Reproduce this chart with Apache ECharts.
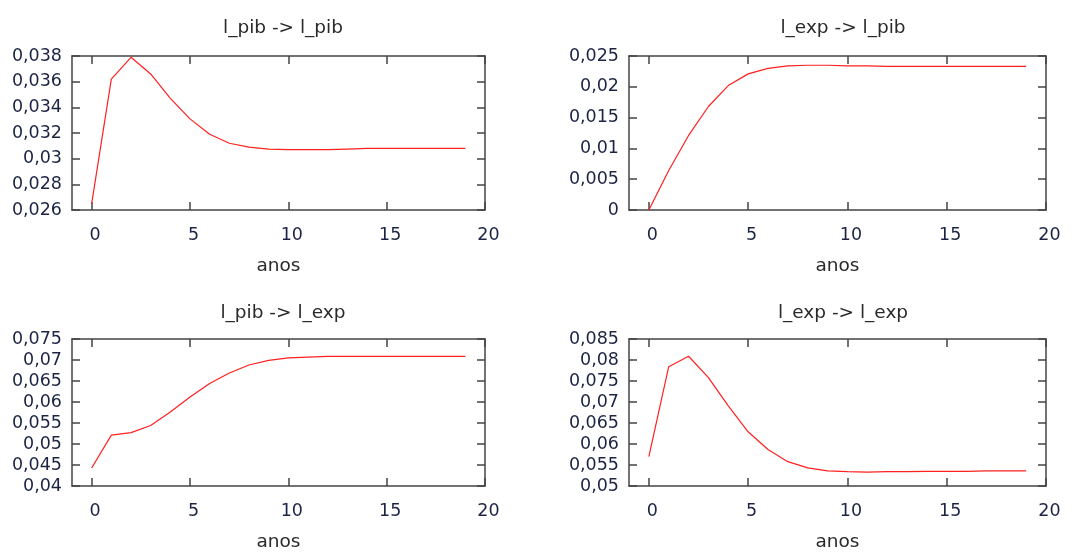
<!DOCTYPE html>
<html>
<head>
<meta charset="utf-8">
<script src="https://cdn.jsdelivr.net/npm/echarts@6/dist/echarts.min.js"></script>
<style>
html,body{margin:0;padding:0;background:#fff;}
#chart{width:1075px;height:553px;}
</style>
</head>
<body>
<div id="chart"></div>
<script>
const years = [0,1,2,3,4,5,6,7,8,9,10,11,12,13,14,15,16,17,18,19];
const xTicks = [0,5,10,15,20];
const titles = ['l_pib -> l_pib','l_exp -> l_pib','l_pib -> l_exp','l_exp -> l_exp'];
const xName = 'anos';
const pibPib = [0.0265,0.0362,0.0379,0.0366,0.0347,0.0331,0.0319,0.0312,0.0309,0.03075,0.0307,0.0307,0.0307,0.03075,0.0308,0.0308,0.0308,0.0308,0.0308,0.0308];
const expPib = [0,0.0064,0.0121,0.0168,0.0202,0.0221,0.0230,0.0234,0.0235,0.0235,0.0234,0.0234,0.0233,0.0233,0.0233,0.0233,0.0233,0.0233,0.0233,0.0233];
const pibExp = [0.0443,0.0521,0.0527,0.0544,0.0576,0.0612,0.0644,0.0669,0.0688,0.0699,0.0705,0.0707,0.07085,0.07085,0.07085,0.07085,0.07085,0.07085,0.07085,0.07085];
const expExp = [0.0570,0.0784,0.0809,0.0758,0.0691,0.0629,0.0587,0.0558,0.0543,0.0536,0.0534,0.0533,0.0534,0.0534,0.0535,0.0535,0.0535,0.0536,0.0536,0.0536];
const yRanges = [[0.026,0.038,0.002],[0,0.025,0.005],[0.04,0.075,0.005],[0.05,0.085,0.005]];
const seriesData = [pibPib, expPib, pibExp, expExp];

const grids = [
  {left:72, top:56, width:413, height:154},
  {left:629, top:56, width:417, height:154},
  {left:72, top:339, width:413, height:153},
  {left:629, top:339, width:417, height:153}
];
const titlePos = [[278,14],[838,14],[278,299],[838,299]];

const FONT = 'DejaVu Sans';
const labelColor = '#1c2444';
const lineColor = '#444';

const fmt = v => {
  const s = String(+(+v).toFixed(4));
  return s.replace('.', ',');
};

const option = {
  animation:false,
  backgroundColor:'#fff',
  title: titles.map((t,i)=>({
    text:t, left:titlePos[i][0], top:titlePos[i][1], textAlign:'center',
    textStyle:{fontFamily:FONT, fontSize:18.5, fontWeight:'normal', color:'#2a2a2a'}
  })),
  grid: grids.map(g=>Object.assign({containLabel:false}, g)),
  xAxis: [],
  yAxis: [],
  series: []
};

grids.forEach((g,i)=>{
  const axisLine = {show:true, onZero:false, lineStyle:{color:lineColor, width:1.5}};
  const tick = {show:true, inside:true, length:8, lineStyle:{color:lineColor, width:1.5}};
  option.xAxis.push({
    type:'value', gridIndex:i, min:-1, max:20, position:'bottom',
    name:xName, nameLocation:'middle', nameGap:47,
    nameTextStyle:{fontFamily:FONT, fontSize:18.5, color:'#2a2a2a'},
    axisLine:axisLine,
    axisTick:Object.assign({customValues:xTicks}, tick),
    axisLabel:{show:true, customValues:xTicks, margin:16, padding:[0,0,0,7], fontFamily:FONT, fontSize:17.5, color:labelColor},
    splitLine:{show:false}
  });
  option.xAxis.push({
    type:'value', gridIndex:i, min:-1, max:20, position:'top',
    axisLine:axisLine,
    axisTick:Object.assign({customValues:xTicks}, tick),
    axisLabel:{show:false},
    splitLine:{show:false}
  });
  const r = yRanges[i];
  option.yAxis.push({
    type:'value', gridIndex:i, min:r[0], max:r[1], interval:r[2], position:'left',
    axisLine:axisLine,
    axisTick:tick,
    axisLabel:{show:true, margin:10, formatter:fmt, fontFamily:FONT, fontSize:17.5, color:labelColor},
    splitLine:{show:false}
  });
  option.yAxis.push({
    type:'value', gridIndex:i, min:r[0], max:r[1], interval:r[2], position:'right',
    axisLine:axisLine,
    axisTick:tick,
    axisLabel:{show:false},
    splitLine:{show:false}
  });
  option.series.push({
    type:'line', xAxisIndex:i*2, yAxisIndex:i*2,
    data: years.map((y,k)=>[y, seriesData[i][k]]),
    showSymbol:false, symbol:'none',
    lineStyle:{color:'#ff2020', width:1.2},
    z:1
  });
});

const chart = echarts.init(document.getElementById('chart'), null, {renderer:'canvas'});
chart.setOption(option);
</script>
</body>
</html>
